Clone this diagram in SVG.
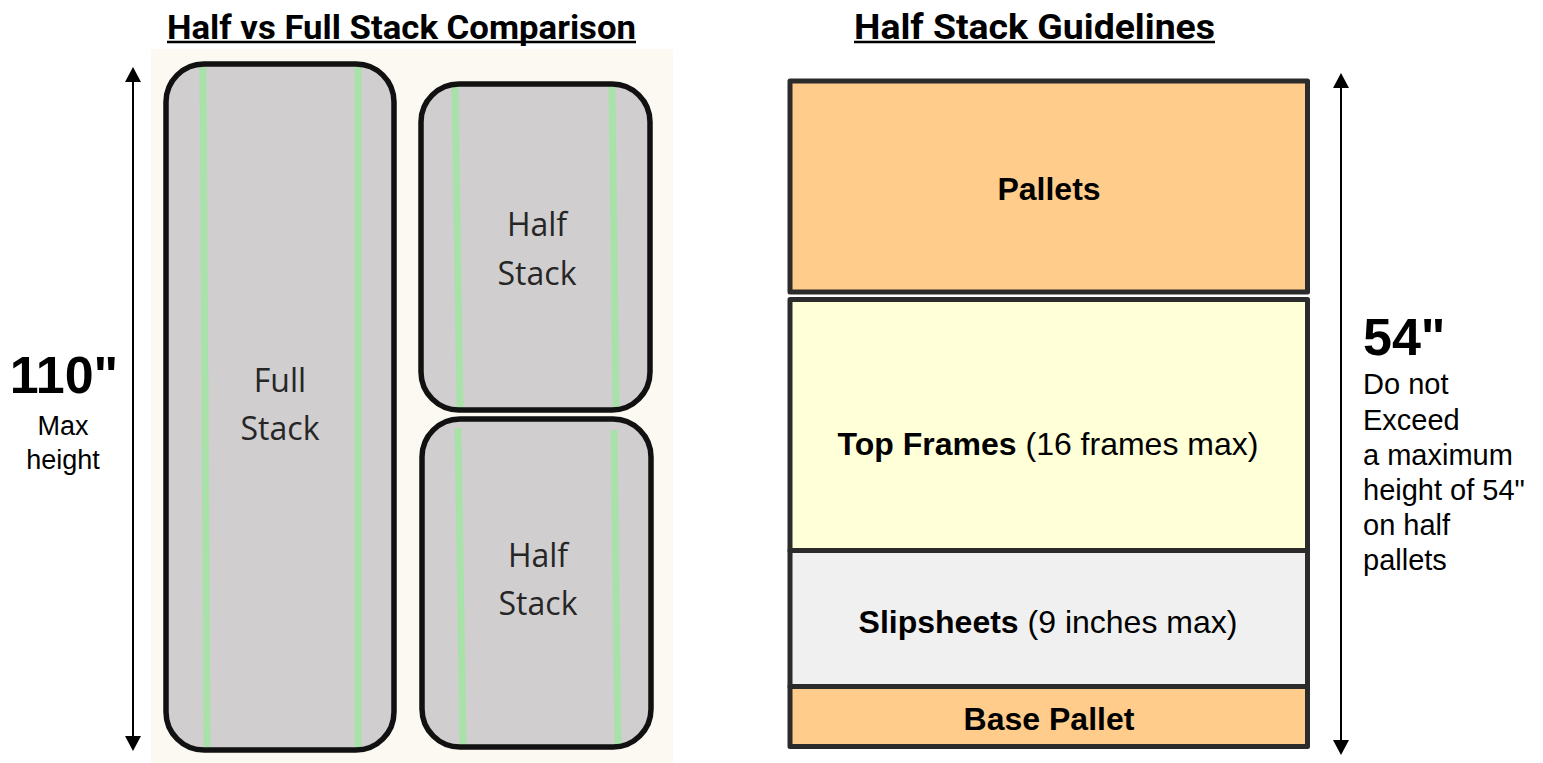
<svg xmlns="http://www.w3.org/2000/svg" width="1543" height="763" viewBox="0 0 1543 763">
<style>
.title{font-family:Roboto,"Liberation Sans",sans-serif;font-weight:700;fill:#000}
.ul{stroke:#000;stroke-width:2.5}
.stack{fill:#D0CECF}
.stackline{fill:none;stroke:#111;stroke-width:5.5}
.green{stroke:#A8E2A8;stroke-width:7}
.stxt{font-family:"Open Sans","Noto Sans",sans-serif;font-size:32px;fill:#262626;text-anchor:middle}
.layer{stroke:#2B2B2B;stroke-width:5;stroke-linejoin:round}
.lbl{font-family:"Liberation Sans",Arial,sans-serif;font-size:32px;fill:#000;text-anchor:middle}
.b{font-weight:700}
.side{font-family:"Liberation Sans",Arial,sans-serif;fill:#000}
.arrow{stroke:#000;stroke-width:2;fill:none;marker-start:url(#ah);marker-end:url(#ah)}
</style>
<defs>
<marker id="ah" markerUnits="userSpaceOnUse" markerWidth="16" markerHeight="16" refX="0" refY="8" orient="auto-start-reverse" viewBox="0 0 16 16">
<path d="M0,0 L15,8 L0,16 z" fill="#000"/>
</marker>
</defs>
<rect width="1543" height="763" fill="#FFFFFF"/>

<g id="title-left">
<text class="title" x="167" y="39" font-size="34" textLength="469" lengthAdjust="spacingAndGlyphs">Half vs Full Stack Comparison</text>
<line class="ul" x1="167" y1="42" x2="636" y2="42"/>
</g>
<g id="title-right">
<text class="title" x="854" y="39" font-size="35" textLength="361" lengthAdjust="spacingAndGlyphs">Half Stack Guidelines</text>
<line class="ul" x1="854" y1="42" x2="1215" y2="42"/>
</g>

<g id="comparison-panel">
<rect x="151" y="49" width="522" height="714" fill="#FCF9F2"/>
</g>

<g id="full-stack">
<rect class="stack" x="166" y="64" width="228" height="686" rx="38"/>
<line class="green" x1="203" y1="66" x2="207" y2="748"/>
<line class="green" x1="358" y1="66" x2="358" y2="748"/>
<rect class="stackline" x="166" y="64" width="228" height="686" rx="38"/>
<text class="stxt" x="280" y="392">Full</text>
<text class="stxt" x="280" y="440">Stack</text>
</g>

<g id="half-stack-top">
<rect class="stack" x="421" y="84" width="229" height="326" rx="38"/>
<line class="green" x1="455" y1="86" x2="460" y2="408"/>
<line class="green" x1="612" y1="86" x2="616" y2="408"/>
<rect class="stackline" x="421" y="84" width="229" height="326" rx="38"/>
<text class="stxt" x="537" y="236">Half</text>
<text class="stxt" x="537" y="285">Stack</text>
</g>

<g id="half-stack-bottom">
<rect class="stack" x="422" y="419" width="229" height="328" rx="38"/>
<line class="green" x1="458" y1="428" x2="463" y2="745"/>
<line class="green" x1="614" y1="430" x2="618" y2="745"/>
<rect class="stackline" x="422" y="419" width="229" height="328" rx="38"/>
<text class="stxt" x="538" y="567">Half</text>
<text class="stxt" x="538" y="615">Stack</text>
</g>

<g id="label-110">
<text class="side" x="64" y="393" font-size="52" font-weight="700" text-anchor="middle">110"</text>
<text class="side" x="63" y="435" font-size="27" text-anchor="middle">Max</text>
<text class="side" x="63" y="469" font-size="27" text-anchor="middle">height</text>
</g>

<g id="pallets">
<rect class="layer" x="790" y="81" width="517.5" height="211" fill="#FFCC8C"/>
<text class="lbl b" x="1049" y="200">Pallets</text>
</g>
<g id="top-frames">
<rect class="layer" x="790" y="299.5" width="517.5" height="251" fill="#FFFFD8"/>
<text class="lbl" x="1048" y="455"><tspan class="b">Top Frames</tspan> (16 frames max)</text>
</g>
<g id="slipsheets">
<rect class="layer" x="790" y="550.5" width="517.5" height="136" fill="#F0F0F0"/>
<text class="lbl" x="1048" y="633"><tspan class="b">Slipsheets</tspan> (9 inches max)</text>
</g>
<g id="base-pallet">
<rect class="layer" x="790" y="686.5" width="517.5" height="60" fill="#FFCC8C"/>
<text class="lbl b" x="1049" y="730">Base Pallet</text>
</g>

<g id="label-54">
<text class="side" x="1363" y="355" font-size="52" font-weight="700">54"</text>
<text class="side" font-size="29">
<tspan x="1363" y="394">Do not</tspan>
<tspan x="1363" y="429.5">Exceed</tspan>
<tspan x="1363" y="465">a maximum</tspan>
<tspan x="1363" y="500">height of 54"</tspan>
<tspan x="1363" y="535">on half</tspan>
<tspan x="1363" y="570">pallets</tspan>
</text>
</g>

<g id="connectors">
<line class="arrow" x1="133" y1="82" x2="133" y2="736"/>
<line class="arrow" x1="1341" y1="88" x2="1341" y2="740"/>
</g>
</svg>
